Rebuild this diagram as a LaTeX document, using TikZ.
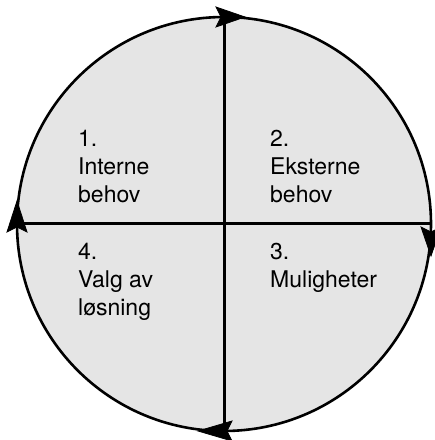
\documentclass[tikz,border=0pt]{standalone}
\usepackage{fontspec}
\setmainfont{TeX Gyre Heros}
\begin{document}
\begin{tikzpicture}[x=1pt,y=1pt,
  ring/.style={line width=2.6pt, fill=black!10},
  axis/.style={line width=3pt},
  headfill/.style={fill=black, draw=black, line width=0.8pt, line join=miter},
  label/.style={anchor=base west, inner sep=0pt, align=left,
    font=\fontsize{23}{28}\selectfont}]
\useasboundingbox (0,0) rectangle (435,440);
\coordinate (c) at (224,216);
\draw[ring] (c) circle (207);
\coordinate (top) at (224,423);
\coordinate (bot) at (224,9);
\coordinate (lft) at (17,216);
\coordinate (rgt) at (431,216);
\draw[axis] (top) -- (bot);
\draw[axis] (lft) -- (rgt);
% arrowheads (clockwise)
\fill[headfill] ([xshift=21pt]top) -- ([xshift=-8pt,yshift=10pt]top) -- ([xshift=-3pt]top) -- ([xshift=-8pt,yshift=-10pt]top) -- cycle;
\fill[headfill] ([yshift=-32pt]rgt) -- ([xshift=10pt,yshift=-3pt]rgt) -- ([yshift=-8pt]rgt) -- ([xshift=-10pt,yshift=-3pt]rgt) -- cycle;
\fill[headfill] ([xshift=-26pt]bot) -- ([xshift=8pt,yshift=10pt]bot) -- ([xshift=3pt]bot) -- ([xshift=8pt,yshift=-10pt]bot) -- cycle;
\fill[headfill] ([yshift=23pt]lft) -- ([xshift=10pt,yshift=-8pt]lft) -- ([yshift=-3pt]lft) -- ([xshift=-10pt,yshift=-8pt]lft) -- cycle;
% labels
\node[label] (q1a) at (78,293) {1.};
\node[label] (q1b) at (78,265) {Interne};
\node[label] (q1c) at (78,237) {behov};
\node[label] (q2a) at (270,293) {2.};
\node[label] (q2b) at (270,265) {Eksterne};
\node[label] (q2c) at (270,237) {behov};
\node[label] (q3a) at (270,180) {3.};
\node[label] (q3b) at (270,152) {Muligheter};
\node[label] (q4a) at (78,180) {4.};
\node[label] (q4b) at (78,152) {Valg av};
\node[label] (q4c) at (78,124) {løsning};
\end{tikzpicture}
\end{document}
